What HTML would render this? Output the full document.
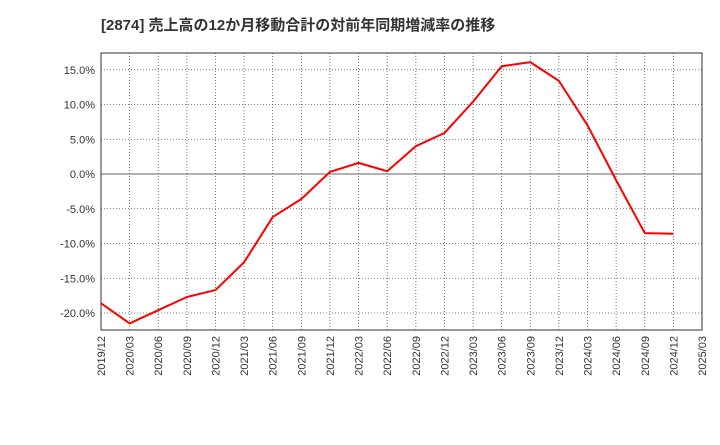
<!DOCTYPE html>
<html><head><meta charset="utf-8"><style>
body{margin:0;background:#fff;font-family:"Liberation Sans","Noto Sans CJK JP",sans-serif;}
svg text{font-family:"Liberation Sans","Noto Sans CJK JP",sans-serif;}
</style></head><body>
<svg id="c" width="720" height="440" xmlns="http://www.w3.org/2000/svg">
<text x="101" y="30" font-size="15" font-weight="bold" fill="#333">[2874]  売上高の12か月移動合計の対前年同期増減率の推移</text>
<g id="grid"></g><g id="axes"></g><g id="series"></g>
</svg>
<script>
const categories=["2019/12","2020/03","2020/06","2020/09","2020/12","2021/03","2021/06","2021/09","2021/12","2022/03","2022/06","2022/09","2022/12","2023/03","2023/06","2023/09","2023/12","2024/03","2024/06","2024/09","2024/12","2025/03"];
const values=[-18.6,-21.5,-19.6,-17.7,-16.7,-12.7,-6.2,-3.6,0.3,1.6,0.4,4.0,5.9,10.4,15.5,16.1,13.4,7.0,-0.9,-8.5,-8.6];
const yTicks=[15,10,5,0,-5,-10,-15,-20];
const yTickLabels=["15.0%","10.0%","5.0%","0.0%","-5.0%","-10.0%","-15.0%","-20.0%"];
const NS="http://www.w3.org/2000/svg";
const L=101,R=702,T=53,B=330;
const x=i=>L+(R-L)*i/(categories.length-1);
const y=v=>174-v*(104.25/15);
function mk(t,a,p){const e=document.createElementNS(NS,t);for(const k in a)e.setAttribute(k,a[k]);p.appendChild(e);return e;}
const g=document.getElementById('grid'),ax=document.getElementById('axes'),s=document.getElementById('series');
categories.forEach((c,i)=>{
 const l=mk('line',{x1:x(i),x2:x(i),y1:T,y2:B,stroke:'#555','stroke-width':0.8,'stroke-dasharray':'1,2'},g);
 
 
 const tx=x(i),ty=B+6;
 const t=mk('text',{x:tx,y:ty,'font-size':11,fill:'#333','text-anchor':'end',transform:`rotate(-90 ${tx} ${ty})`,dy:'4'},ax);
 t.textContent=c;
 
 
});
yTicks.forEach((v,i)=>{
 const l=mk('line',{x1:L,x2:R,y1:y(v),y2:y(v),stroke:v===0?'#666':'#555','stroke-width':v===0?1:0.8,'stroke-dasharray':v===0?'':'1,2'},g);
 
 
 const t=mk('text',{x:L-6,y:y(v)+4,'font-size':11,fill:'#333','text-anchor':'end'},ax);
 t.textContent=yTickLabels[i];
 
 
});
const f=mk('rect',{x:L,y:T,width:R-L,height:B-T,fill:'none',stroke:'#333','stroke-width':1},ax);


const p=mk('polyline',{points:values.map((v,i)=>x(i)+','+y(v)).join(' '),fill:'none',stroke:'#f00','stroke-width':2,'stroke-linejoin':'round'},s);


</script>
</body></html>
